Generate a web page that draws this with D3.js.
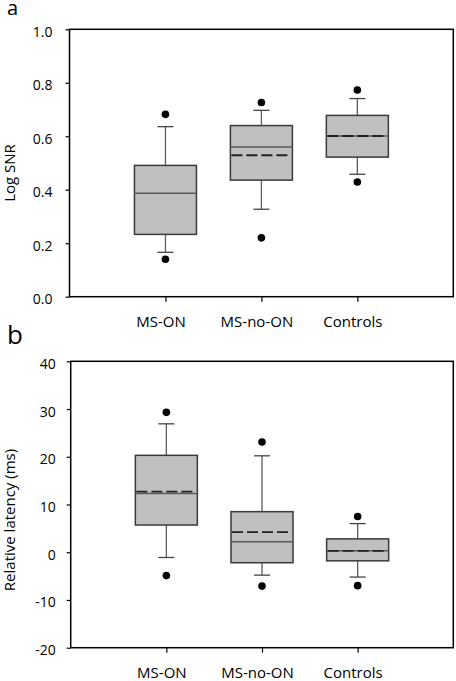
<!DOCTYPE html>
<html>
<head>
<meta charset="utf-8">
<script src="https://cdn.jsdelivr.net/npm/d3@7"></script>
<style>
  html, body { margin: 0; padding: 0; background: #fff; }
  svg { display: block; font-family: "Open Sans", "Noto Sans", sans-serif; }
</style>
</head>
<body>
<svg id="chart" width="456" height="681"></svg>
<script>
// ---------- DATA ----------
const categories = ["MS-ON", "MS-no-ON", "Controls"];

// Panel a: Log SNR
const snrLowOutlier  = [0.140, 0.220, 0.429];
const snrWhiskLow    = [0.166, 0.327, 0.458];
const snrQ1          = [0.233, 0.436, 0.522];
const snrMedian      = [0.387, 0.560, 0.601];
const snrMean        = [null,  0.529, 0.601];
const snrQ3          = [0.491, 0.640, 0.678];
const snrWhiskHigh   = [0.636, 0.697, 0.741];
const snrHighOutlier = [0.682, 0.726, 0.773];
const snrTicks = [0.0, 0.2, 0.4, 0.6, 0.8, 1.0];

// Panel b: Relative latency (ms)
const latLowOutlier  = [-4.9, -7.1, -7.0];
const latWhiskLow    = [-1.1, -4.8, -5.2];
const latQ1          = [5.7, -2.2, -1.8];
const latMedian      = [12.3, 2.2, 0.3];
const latMean        = [12.7, 4.2, 0.3];
const latQ3          = [20.3, 8.5, 2.8];
const latWhiskHigh   = [26.9, 20.2, 6.0];
const latHighOutlier = [29.3, 23.1, 7.5];
const latTicks = [-20, -10, 0, 10, 20, 30, 40];

// ---------- DRAW ----------
const svg = d3.select("#chart");

function panel(cfg) {
  const g = svg.append("g");
  const x = d3.scalePoint().domain(categories).range([cfg.left, cfg.right]).padding(1);
  const y = d3.scaleLinear().domain(cfg.domain).range([cfg.bottom, cfg.top]);

  const rows = categories.map((c, i) => ({
    c, lo: cfg.lowOut[i], wl: cfg.wLow[i], q1: cfg.q1[i], med: cfg.med[i],
    mean: cfg.mean[i], q3: cfg.q3[i], wh: cfg.wHigh[i], hi: cfg.highOut[i]
  }));

  const boxW = 62, capW = 16;

  // whiskers
  rows.forEach(r => {
    const cx = x(r.c);
    g.append("line").attr("x1", cx).attr("x2", cx).attr("y1", y(r.q3)).attr("y2", y(r.wh))
      .attr("stroke", "#5c5c5c").attr("stroke-width", 1.3);
    g.append("line").attr("x1", cx).attr("x2", cx).attr("y1", y(r.q1)).attr("y2", y(r.wl))
      .attr("stroke", "#5c5c5c").attr("stroke-width", 1.3);
    g.append("line").attr("x1", cx - capW / 2).attr("x2", cx + capW / 2).attr("y1", y(r.wh)).attr("y2", y(r.wh))
      .attr("stroke", "#444").attr("stroke-width", 1.3);
    g.append("line").attr("x1", cx - capW / 2).attr("x2", cx + capW / 2).attr("y1", y(r.wl)).attr("y2", y(r.wl))
      .attr("stroke", "#444").attr("stroke-width", 1.3);
  });

  // boxes
  g.selectAll("rect.box").data(rows).join("rect")
    .attr("class", "box")
    .attr("x", d => x(d.c) - boxW / 2)
    .attr("width", boxW)
    .attr("y", d => y(d.q3))
    .attr("height", d => y(d.q1) - y(d.q3))
    .attr("fill", "#c0c0c0")
    .attr("stroke", "#3a3a3a")
    .attr("stroke-width", 1.5);

  // medians
  g.selectAll("line.med").data(rows).join("line")
    .attr("class", "med")
    .attr("x1", d => x(d.c) - boxW / 2).attr("x2", d => x(d.c) + boxW / 2)
    .attr("y1", d => y(d.med)).attr("y2", d => y(d.med))
    .attr("stroke", "#5a5a5a").attr("stroke-width", 1.4);

  // means (dashed)
  g.selectAll("line.mean").data(rows.filter(d => d.mean !== null)).join("line")
    .attr("class", "mean")
    .attr("x1", d => x(d.c) - boxW / 2 + 1).attr("x2", d => x(d.c) + boxW / 2 - 1)
    .attr("y1", d => y(d.mean)).attr("y2", d => y(d.mean))
    .attr("stroke", "#222").attr("stroke-width", 1.8)
    .attr("stroke-dasharray", "11,4");

  // outliers
  const pts = [];
  rows.forEach(r => { pts.push({ c: r.c, v: r.lo }); pts.push({ c: r.c, v: r.hi }); });
  g.selectAll("circle").data(pts).join("circle")
    .attr("cx", d => x(d.c)).attr("cy", d => y(d.v)).attr("r", 3.8).attr("fill", "#000");

  // frame
  g.append("rect")
    .attr("x", cfg.left).attr("y", cfg.top)
    .attr("width", cfg.right - cfg.left).attr("height", cfg.bottom - cfg.top)
    .attr("fill", "none").attr("stroke", "#000").attr("stroke-width", 1.5);

  // y axis
  const ya = g.append("g").attr("transform", `translate(${cfg.left},0)`)
    .call(d3.axisLeft(y).tickValues(cfg.ticks).tickFormat(cfg.fmt).tickSize(4).tickPadding(cfg.yPad));
  ya.select(".domain").remove();
  ya.selectAll("line").attr("stroke", "#000").attr("stroke-width", 1.2);
  ya.selectAll("text").attr("font-size", 14).attr("fill", "#000").attr("dy", "0.5em")
    .attr("font-family", "Open Sans, Noto Sans, sans-serif");

  // x axis
  const xa = g.append("g").attr("transform", `translate(0,${cfg.bottom})`)
    .call(d3.axisBottom(x).tickSize(5).tickPadding(20));
  xa.select(".domain").remove();
  xa.selectAll("line").attr("stroke", "#000").attr("stroke-width", 1.2);
  xa.selectAll("text").attr("font-size", 15).attr("fill", "#000")
    .attr("y", 30).attr("dy", 0).attr("dx", -5)
    .attr("font-family", "Open Sans, Noto Sans, sans-serif");

  // y title
  g.append("text")
    .attr("transform", `translate(${cfg.titleX},${cfg.titleY}) rotate(-90)`)
    .attr("text-anchor", "middle")
    .attr("font-size", 15)
    .text(cfg.title);

  // panel letter
  g.append("text")
    .attr("x", 7).attr("y", cfg.letterY)
    .attr("font-size", cfg.letterSize)
    .text(cfg.letter);
}

panel({
  left: 69.5, right: 453.3, top: 29.3, bottom: 296.7,
  domain: [0, 1], ticks: snrTicks, fmt: d3.format(".1f"), yPad: 13,
  lowOut: snrLowOutlier, wLow: snrWhiskLow, q1: snrQ1, med: snrMedian, mean: snrMean,
  q3: snrQ3, wHigh: snrWhiskHigh, highOut: snrHighOutlier,
  title: "Log SNR", titleX: 15, titleY: 173,
  letter: "a", letterY: 15, letterSize: 20
});

panel({
  left: 70.7, right: 453.3, top: 361.3, bottom: 647.7,
  domain: [-20, 40], ticks: latTicks, fmt: d => String(d), yPad: 11,
  lowOut: latLowOutlier, wLow: latWhiskLow, q1: latQ1, med: latMedian, mean: latMean,
  q3: latQ3, wHigh: latWhiskHigh, highOut: latHighOutlier,
  title: "Relative latency (ms)", titleX: 15, titleY: 520,
  letter: "b", letterY: 344, letterSize: 26
});
</script>
</body>
</html>
